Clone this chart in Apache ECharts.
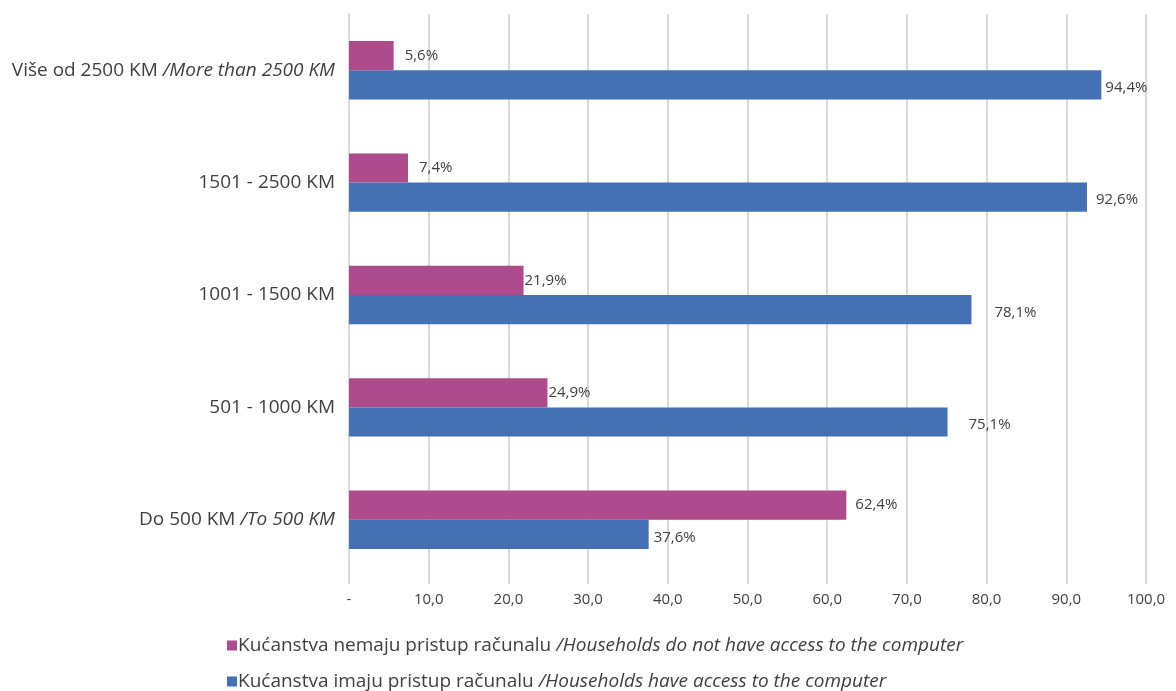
<!doctype html>
<html lang="hr">
  <head>
    <meta charset="UTF-8" />
    <title>Kućanstva i pristup računalu</title>
    <script src="https://cdn.jsdelivr.net/npm/echarts@6/dist/echarts.min.js"></script>
    <style>
      * { margin: 0; padding: 0; }
      html, body, #chart { width: 100%; height: 100%; overflow: hidden; background: #fff; }
    </style>
  </head>
  <body>
    <div id="chart"></div>
    <script>
      // categories, bottom to top
      const categories = [
        'Do 500 KM /To 500 KM',
        '501 - 1000 KM',
        '1001 - 1500 KM',
        '1501 - 2500 KM',
        'Više od 2500 KM /More than 2500 KM'
      ];
      const noAccess = [62.4, 24.9, 21.9, 7.4, 5.6];
      const hasAccess = [37.6, 75.1, 78.1, 92.6, 94.4];
      const seriesNames = [
        'Kućanstva nemaju pristup računalu /Households do not have access to the computer',
        'Kućanstva imaju pristup računalu /Households have access to the computer'
      ];
      const xTicks = ['-', '10,0', '20,0', '30,0', '40,0', '50,0', '60,0', '70,0', '80,0', '90,0', '100,0'];

      const font = '"Open Sans", "Noto Sans", sans-serif';
      const textColor = '#404040';
      // label gaps as placed in the original (excel moved some of them)
      const noAccessGap = [9, 1, 1, 11, 11];
      const hasAccessGap = [5, 21, 23, 9, 4];

      // split "normal /italic" labels into rich text
      function richLabel(s) {
        const i = s.indexOf('/');
        if (i < 0) return s;
        return s.slice(0, i) + '{it|' + s.slice(i) + '}';
      }
      const pct = (p) => p.value.toFixed(1).replace('.', ',') + '%';
      const withGaps = (vals, gaps) => vals.map((v, i) => ({ value: v, label: { distance: gaps[i] } }));

      // one legend per row so they stack like the original
      const legendRow = (name, top) => ({
        left: 222,
        top: top,
        itemWidth: 10,
        itemHeight: 10,
        itemStyle: { borderWidth: 0 },
        icon: 'rect',
        data: [name],
        formatter: richLabel,
        textStyle: {
          color: textColor,
          fontSize: 19,
          fontFamily: font,
          padding: [0, 0, 0, -4],
          rich: { it: { fontStyle: 'italic', fontSize: 19, color: textColor, fontFamily: font } }
        }
      });

      const chart = echarts.init(document.getElementById('chart'));
      chart.setOption({
        animation: false,
        textStyle: { fontFamily: font },
        grid: { left: 349, right: 30, top: 14, height: 562, containLabel: false },
        legend: [legendRow(seriesNames[0], 631), legendRow(seriesNames[1], 667)],
        xAxis: {
          type: 'value',
          min: 0,
          max: 100,
          interval: 10,
          axisLine: { show: false },
          axisTick: { show: true, length: 8, lineStyle: { color: '#d9d9d9', width: 2 } },
          splitLine: { show: true, lineStyle: { color: '#d9d9d9', width: 2 } },
          axisLabel: {
            color: textColor,
            fontSize: 15,
            margin: 16,
            formatter: (v) => xTicks[Math.round(v / 10)]
          }
        },
        yAxis: {
          type: 'category',
          data: categories,
          axisLine: { show: true, lineStyle: { color: '#d9d9d9', width: 2 } },
          axisTick: { show: false },
          axisLabel: {
            color: textColor,
            fontSize: 19,
            margin: 14,
            formatter: richLabel,
            rich: { it: { fontStyle: 'italic', fontSize: 19, color: textColor } }
          }
        },
        series: [
          {
            name: seriesNames[0],
            type: 'bar',
            data: withGaps(noAccess, noAccessGap),
            barGap: '0%',
            barCategoryGap: '48%',
            itemStyle: { color: '#AD4B8D' },
            label: {
              show: true,
              position: 'right',
              color: textColor,
              fontSize: 15,
              formatter: pct
            }
          },
          {
            name: seriesNames[1],
            type: 'bar',
            data: withGaps(hasAccess, hasAccessGap),
            barGap: '0%',
            barCategoryGap: '48%',
            itemStyle: { color: '#4470B5' },
            label: {
              show: true,
              position: 'right',
              offset: [0, 3],
              color: textColor,
              fontSize: 15,
              formatter: pct
            }
          }
        ]
      });
    </script>
  </body>
</html>
